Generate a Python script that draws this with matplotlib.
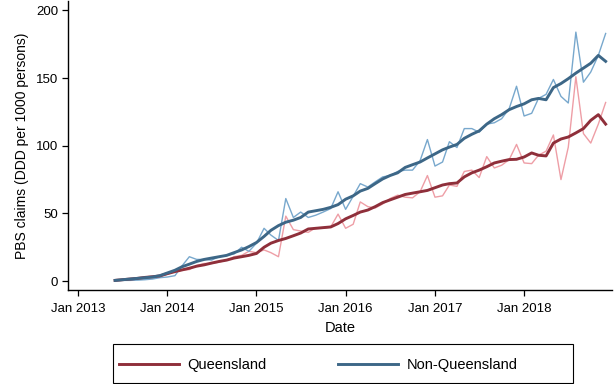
import pandas as pd
import matplotlib
matplotlib.use("Agg")
import matplotlib.pyplot as plt
import matplotlib.patches as ptchs

plt.rcParams['font.family'] = ['Liberation Sans', 'DejaVu Sans']

# monthly series, Jun 2013 .. Dec 2018
months = pd.date_range("2013-06-01", "2018-12-01", freq="MS")

qld_raw = [0.5, 1.0, 1.5, 2.2, 2.5, 3.0, 3.5,
           5.0, 7.0, 8.0, 8.5, 11.5, 13.0, 13.0, 14.0, 15.5, 18.0, 19.0, 22.0,
           21.0, 23.0, 21.0, 18.0, 48.0, 38.0, 37.0, 36.0, 39.5, 39.0, 40.0, 49.5,
           39.0, 42.0, 58.5, 55.0, 54.0, 57.0, 61.0, 63.5, 62.0, 61.5, 66.0, 78.0,
           62.0, 63.0, 71.0, 70.0, 81.0, 82.0, 76.5, 92.0, 83.6, 85.6, 89.8, 101.0,
           87.3, 86.8, 93.0, 96.0, 108.0, 75.0, 99.0, 151.0, 109.0, 102.0, 116.0, 132.0]
qld_smooth = [0.5, 1.0, 1.5, 2.0, 2.7, 3.2, 3.8,
              5.5, 7.0, 8.2, 9.5, 11.0, 12.0, 13.3, 14.5, 15.5, 17.0, 18.0, 19.0,
              20.4, 25.0, 28.0, 30.0, 31.5, 33.5, 35.5, 38.5, 39.0, 39.5, 40.0, 42.5,
              46.0, 48.5, 51.0, 52.5, 55.0, 58.0, 60.0, 62.0, 64.0, 65.0, 66.0, 67.0,
              69.0, 71.0, 72.0, 72.5, 77.0, 80.0, 82.0, 84.5, 87.3, 88.6, 89.8, 90.0,
              91.7, 94.7, 93.0, 92.5, 102.0, 105.0, 106.5, 109.5, 112.7, 118.8, 123.0, 116.0]
nonqld_raw = [0.3, 0.5, 0.5, 0.7, 1.0, 1.5, 2.5,
              3.0, 4.0, 11.0, 18.0, 16.0, 16.0, 15.5, 18.0, 19.0, 20.0, 25.0, 22.0,
              28.0, 39.0, 34.0, 30.0, 61.0, 47.0, 51.0, 47.0, 48.7, 51.0, 53.6, 66.0,
              53.0, 62.7, 72.0, 69.5, 73.3, 77.0, 78.0, 81.0, 82.0, 82.0, 89.0, 104.6,
              85.0, 88.0, 103.0, 98.7, 112.7, 112.7, 110.0, 116.0, 117.0, 120.0, 127.5, 144.0,
              122.0, 124.0, 135.0, 138.0, 149.0, 136.5, 131.6, 184.0, 147.0, 154.5, 166.8, 183.0]
nonqld_smooth = [0.5, 1.0, 1.5, 2.0, 2.5, 3.0, 4.0,
                 6.0, 8.0, 10.5, 12.5, 14.5, 16.0, 17.0, 18.0, 19.0, 21.0, 23.0, 25.5,
                 28.5, 33.0, 37.5, 41.0, 43.5, 45.0, 47.0, 51.0, 52.0, 53.0, 54.5, 56.5,
                 60.5, 63.0, 66.5, 68.5, 72.0, 75.5, 78.0, 80.0, 84.0, 86.0, 88.0, 91.0,
                 94.0, 97.0, 99.0, 101.0, 105.5, 108.5, 111.0, 116.0, 120.0, 123.0, 126.7, 129.0,
                 131.0, 134.0, 135.0, 134.0, 143.0, 146.0, 149.6, 153.7, 157.4, 161.0, 166.8, 162.4]

year_ticks = pd.date_range("2013-01-01", "2018-01-01", freq="YS")
year_labels = ["Jan 2013", "Jan 2014", "Jan 2015", "Jan 2016", "Jan 2017", "Jan 2018"]
y_ticks = [0, 50, 100, 150, 200]

RED = "#8f2f3a"
BLUE = "#3d6787"
PINK = "#ee9ea6"
LIGHTBLUE = "#78a8cd"

W, H = 616, 384
fig = plt.figure(figsize=(W / 100, H / 100), dpi=100)
ax = fig.add_axes([68 / W, 1 - 290 / H, (612 - 68) / W, (290 - 1) / H])

ax.plot(months, qld_raw, color=PINK, lw=1.0)
ax.plot(months, nonqld_raw, color=LIGHTBLUE, lw=1.0)
ax.plot(months, qld_smooth, color=RED, lw=2.1, label="Queensland")
ax.plot(months, nonqld_smooth, color=BLUE, lw=2.1, label="Non-Queensland")

ax.set_xlim(pd.Timestamp("2012-11-20"), pd.Timestamp("2018-12-27"))
ax.set_ylim(-6.6, 207)
ax.set_xticks(year_ticks)
ax.set_xticklabels(year_labels)
ax.set_yticks(y_ticks)
ax.tick_params(axis="both", direction="out", length=4, width=0.9, labelsize=9.5, colors="black")
ax.tick_params(axis="x", pad=5)
ax.tick_params(axis="y", pad=3)
for s in ["top", "right"]:
    ax.spines[s].set_visible(False)
for s in ["left", "bottom"]:
    ax.spines[s].set_linewidth(1.0)
ax.set_xlabel("Date", fontsize=10.5, labelpad=5)
ax.set_ylabel("PBS claims (DDD per 1000 persons)", fontsize=10, labelpad=5)

# legend box
fig.patches.append(ptchs.Rectangle((113 / W, 1 - 383 / H), 460 / W, 39 / H,
                                   transform=fig.transFigure, fill=False,
                                   edgecolor="black", lw=0.8))
fig.legend(loc="center left", bbox_to_anchor=(119 / W, 1 - 365 / H), frameon=False,
           ncol=2, fontsize=10.5, handlelength=4.1, handletextpad=0.6,
           columnspacing=4.9, borderpad=0, borderaxespad=0)

fig.savefig("out.png", dpi=100)
